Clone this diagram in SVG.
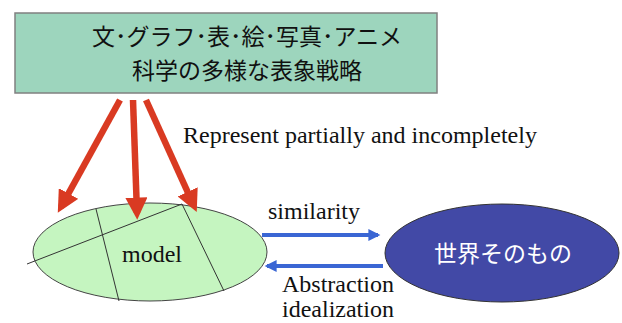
<svg xmlns="http://www.w3.org/2000/svg" width="622" height="323" viewBox="0 0 622 323">
<defs>
<marker id="redHead" viewBox="0 0 10 10" refX="7" refY="5" markerWidth="3.4" markerHeight="3.4" markerUnits="strokeWidth" orient="auto">
<path d="M0,0 L10,5 L0,10 Z" fill="#d93a22"/>
</marker>
<marker id="blueHead" viewBox="0 0 10 10" refX="8" refY="5" markerWidth="3.5" markerHeight="3" markerUnits="strokeWidth" orient="auto">
<path d="M0,0 L10,5 L0,10 Z" fill="#3a66d4"/>
</marker>
</defs>
<style>
.serif{font-family:"Liberation Serif","Times New Roman",serif;font-size:24px;fill:#111}
.jp{font-family:"Noto Sans CJK JP","Noto Sans",sans-serif;font-size:23px;fill:#111}
.red{stroke:#d93a22;stroke-width:6.5;fill:none}
.blue{stroke:#3a66d4;stroke-width:4;fill:none}
.div{stroke:#333;stroke-width:1;fill:none}
</style>
<rect width="622" height="323" fill="#fff"/>
<g id="top-box">
<rect x="15" y="13" width="422" height="80" fill="#9dd5bd" stroke="#808080" stroke-width="1.5"/>
<text class="jp" x="247" y="45" text-anchor="middle">文･グラフ･表･絵･写真･アニメ</text>
<text class="jp" x="247" y="79" text-anchor="middle">科学の多様な表象戦略</text>
</g>
<g id="model">
<ellipse cx="150" cy="252" rx="117" ry="49" fill="#c5f5c0" stroke="#444" stroke-width="1"/>
<line class="div" x1="27" y1="264" x2="182" y2="204"/>
<line class="div" x1="96" y1="209" x2="119" y2="301"/>
<line class="div" x1="182" y1="204" x2="224" y2="291"/>
<text class="serif" x="152" y="262" text-anchor="middle">model</text>
</g>
<g id="world">
<ellipse cx="502" cy="253" rx="117" ry="49" fill="#4249a6" stroke="#333" stroke-width="1"/>
<text x="503" y="262" text-anchor="middle" style="font-family:'Noto Sans CJK JP','Noto Sans',sans-serif;font-size:23px;fill:#fff">世界そのもの</text>
</g>
<g id="connectors">
<line class="red" x1="120" y1="100" x2="61" y2="207" marker-end="url(#redHead)"/>
<line class="red" x1="133" y1="100" x2="137" y2="213" marker-end="url(#redHead)"/>
<line class="red" x1="146" y1="100" x2="194" y2="206" marker-end="url(#redHead)"/>
<line class="blue" x1="262" y1="235" x2="378" y2="235" marker-end="url(#blueHead)"/>
<line class="blue" x1="383" y1="266" x2="267" y2="266" marker-end="url(#blueHead)"/>
</g>
<g id="labels">
<text class="serif" x="183" y="143">Represent partially and incompletely</text>
<text class="serif" x="268" y="219">similarity</text>
<text class="serif" x="282" y="292">Abstraction</text>
<text class="serif" x="282" y="317">idealization</text>
</g>
</svg>
